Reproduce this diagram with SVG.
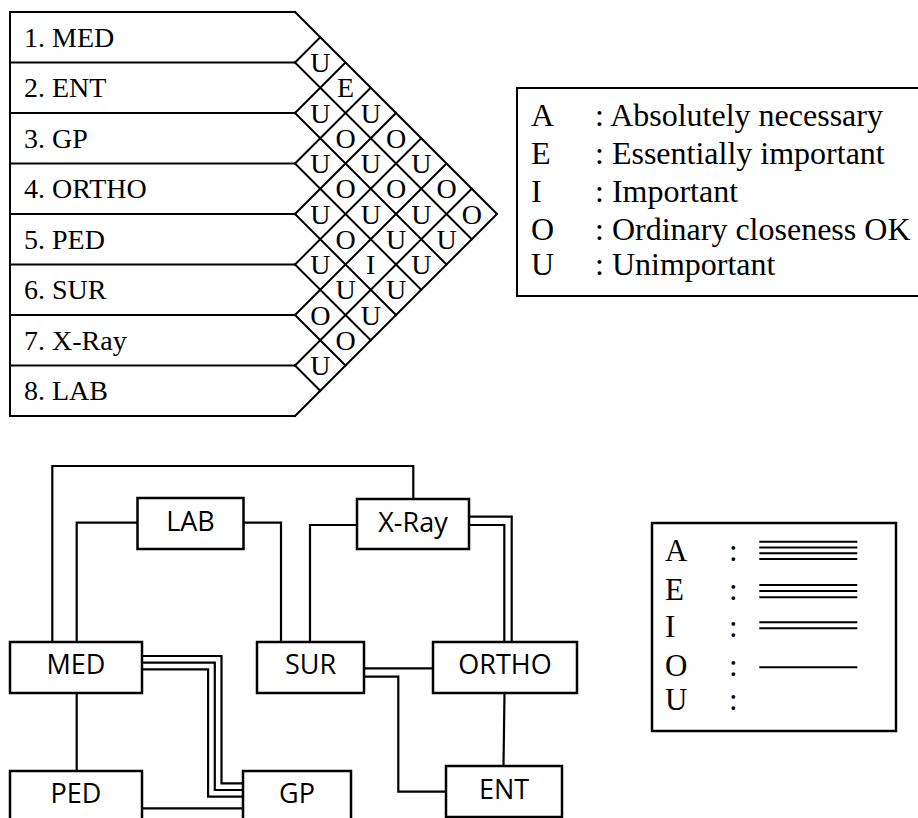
<svg xmlns="http://www.w3.org/2000/svg" width="918" height="818" viewBox="0 0 918 818">
<style>
.ln{fill:none;stroke:#000;stroke-width:2;stroke-linecap:square}
.bx{fill:#fff;stroke:#000;stroke-width:2.5}
.cn{fill:none;stroke:#000;stroke-width:2.2}
.ser{font-family:"Liberation Serif","Times New Roman",serif;fill:#000}
.row{font-size:28px}
.cell{font-size:28px;text-anchor:middle}
.leg{font-size:32px}
.leg2{font-size:31px}
.san{font-family:"Open Sans","Liberation Sans",sans-serif;font-size:27px;text-anchor:middle;fill:#000}
.ll{stroke:#000;stroke-width:2;fill:none}
</style>
<rect width="918" height="818" fill="#fff"/>

<g id="relationship-chart">
<path class="ln" d="M10,12 V416 M10,12 H295 M10,62.5 H295 M10,113 H295 M10,163.5 H295 M10,214 H295 M10,264.5 H295 M10,315 H295 M10,365.5 H295 M10,416 H295"/>
<path class="ln" d="M295,12 L497,214 M295,62.5 L471.75,239.25 M295,113 L446.5,264.5 M295,163.5 L421.25,289.75 M295,214 L396,315 M295,264.5 L370.75,340.25 M295,315 L345.5,365.5 M295,365.5 L320.25,390.75"/>
<path class="ln" d="M295,62.5 L320.25,37.25 M295,113 L345.5,62.5 M295,163.5 L370.75,87.75 M295,214 L396,113 M295,264.5 L421.25,138.25 M295,315 L446.5,163.5 M295,365.5 L471.75,188.75 M295,416 L497,214"/>
<g id="row-labels" class="ser row">
<text x="24" y="46.5">1. MED</text>
<text x="24" y="97">2. ENT</text>
<text x="24" y="147.5">3. GP</text>
<text x="24" y="198">4. ORTHO</text>
<text x="24" y="248.5">5. PED</text>
<text x="24" y="299">6. SUR</text>
<text x="24" y="349.5">7. X-Ray</text>
<text x="24" y="400">8. LAB</text>
</g>
<g id="cells" class="ser cell">
<text x="320.25" y="72">U</text>
<text x="345.5" y="97.25">E</text>
<text x="320.25" y="122.5">U</text>
<text x="370.75" y="122.5">U</text>
<text x="345.5" y="147.75">O</text>
<text x="396" y="147.75">O</text>
<text x="320.25" y="173">U</text>
<text x="370.75" y="173">U</text>
<text x="421.25" y="173">U</text>
<text x="345.5" y="198.25">O</text>
<text x="396" y="198.25">O</text>
<text x="446.5" y="198.25">O</text>
<text x="320.25" y="223.5">U</text>
<text x="370.75" y="223.5">U</text>
<text x="421.25" y="223.5">U</text>
<text x="471.75" y="223.5">O</text>
<text x="345.5" y="248.75">O</text>
<text x="396" y="248.75">U</text>
<text x="446.5" y="248.75">U</text>
<text x="320.25" y="274">U</text>
<text x="370.75" y="274">I</text>
<text x="421.25" y="274">U</text>
<text x="345.5" y="299.25">U</text>
<text x="396" y="299.25">U</text>
<text x="320.25" y="324.5">O</text>
<text x="370.75" y="324.5">U</text>
<text x="345.5" y="349.75">O</text>
<text x="320.25" y="375">U</text>
</g>
</g>

<g id="legend-codes">
<rect x="517" y="88" width="420" height="208" fill="none" stroke="#000" stroke-width="2"/>
<g class="ser leg">
<text x="531" y="126">A</text><text x="595" y="126">: Absolutely necessary</text>
<text x="531" y="164">E</text><text x="595" y="164">: Essentially important</text>
<text x="531" y="202">I</text><text x="595" y="202">: Important</text>
<text x="531" y="240">O</text><text x="595" y="240">: Ordinary closeness OK</text>
<text x="531" y="275">U</text><text x="595" y="275">: Unimportant</text>
</g>
</g>

<g id="connectors">
<path class="cn" d="M52.3,642 V466 H413.3 V499"/>
<path class="cn" d="M76.7,642 V522.7 H137"/>
<path class="cn" d="M243,522.7 H281 V642"/>
<path class="cn" d="M357,525 H310 V642"/>
<path class="cn" d="M469,516.7 H511.7 V642"/>
<path class="cn" d="M469,525 H504.3 V642"/>
<path class="cn" d="M142,656 H221.5 V783.3 H243"/>
<path class="cn" d="M142,662.7 H214.8 V790 H243"/>
<path class="cn" d="M142,669.4 H208.1 V796.7 H243"/>
<path class="cn" d="M76.7,693 V771"/>
<path class="cn" d="M142,808.3 H243"/>
<path class="cn" d="M364,668.3 H433"/>
<path class="cn" d="M364,676.7 H398.3 V791.7 H446"/>
<path class="cn" d="M504.5,693 L503.5,766"/>
</g>

<g id="node-lab"><rect class="bx" x="137.5" y="498" width="106" height="51"/><text class="san" x="190.5" y="531">LAB</text></g>
<g id="node-xray"><rect class="bx" x="357" y="499" width="112" height="50"/><text class="san" x="413" y="532">X-Ray</text></g>
<g id="node-med"><rect class="bx" x="10" y="642" width="132" height="51"/><text class="san" x="76" y="674">MED</text></g>
<g id="node-sur"><rect class="bx" x="257" y="642" width="107" height="51"/><text class="san" x="310.5" y="674">SUR</text></g>
<g id="node-ortho"><rect class="bx" x="433" y="642" width="144" height="51"/><text class="san" x="505" y="674">ORTHO</text></g>
<g id="node-ped"><rect class="bx" x="10" y="771" width="132" height="60"/><text class="san" x="76" y="802.5">PED</text></g>
<g id="node-gp"><rect class="bx" x="243" y="771" width="108" height="60"/><text class="san" x="297" y="802.5">GP</text></g>
<g id="node-ent"><rect class="bx" x="446" y="766" width="116" height="51"/><text class="san" x="504" y="798.5">ENT</text></g>

<g id="legend-lines">
<rect x="652" y="523" width="244" height="208" fill="none" stroke="#000" stroke-width="2.5"/>
<g class="ser leg2">
<text x="665" y="561">A</text><text x="729" y="561">:</text>
<text x="665" y="600">E</text><text x="729" y="600">:</text>
<text x="665" y="637">I</text><text x="729" y="637">:</text>
<text x="665" y="676">O</text><text x="729" y="676">:</text>
<text x="665" y="710">U</text><text x="729" y="710">:</text>
</g>
<path class="ll" d="M759.3,541.7 H857.3 M759.3,547.5 H857.3 M759.3,553.3 H857.3 M759.3,559 H857.3"/>
<path class="ll" d="M759.3,585 H857.3 M759.3,591 H857.3 M759.3,597.3 H857.3"/>
<path class="ll" d="M759.3,622.3 H857.3 M759.3,628.3 H857.3"/>
<path class="ll" d="M759.3,667.3 H857.3"/>
</g>
</svg>
